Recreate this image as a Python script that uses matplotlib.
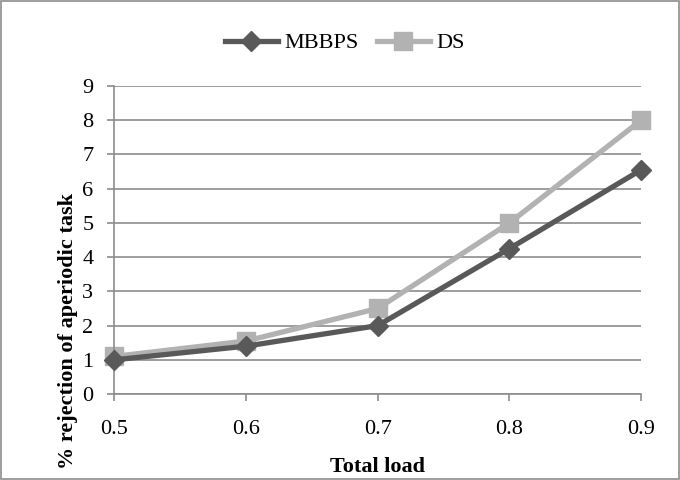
import matplotlib.pyplot as plt
from matplotlib.patches import Rectangle

plt.rcParams['font.family'] = ['Liberation Serif', 'DejaVu Serif']

# data
load = [0.5, 0.6, 0.7, 0.8, 0.9]
mbbps = [1.0, 1.4, 2.0, 4.25, 6.55]
ds = [1.1, 1.55, 2.5, 5.0, 8.0]

fig = plt.figure(figsize=(6.8, 4.8), dpi=100)
ax = fig.add_axes([0.168, 0.179, 0.775, 0.642])

ax.plot(load, mbbps, color='#595959', lw=3.8, marker='D', markersize=10, label='MBBPS', zorder=3)
ax.plot(load, ds, color='#b2b2b2', lw=3.8, marker='s', markersize=13, label='DS', zorder=2)

ax.set_xlim(0.5, 0.9)
ax.set_ylim(0, 9)
ax.set_xticks(load)
ax.set_xticklabels(['0.5', '0.6', '0.7', '0.8', '0.9'])
ax.set_yticks(range(10))
ax.yaxis.grid(True, color='#8c8c8c', lw=1.2)
ax.set_axisbelow(True)
for s in ['top', 'right']:
    ax.spines[s].set_visible(False)
for s in ['left', 'bottom']:
    ax.spines[s].set_color('#8c8c8c')
    ax.spines[s].set_linewidth(1.2)
ax.tick_params(axis='both', colors='#8c8c8c', labelcolor='black', labelsize=16, length=5, width=1.2)
ax.tick_params(axis='x', pad=14)
ax.tick_params(axis='y', pad=10)
for l in ax.get_lines():
    l.set_clip_on(False)

ax.set_xlabel('Total load', fontsize=16, fontweight='bold')
ax.xaxis.set_label_coords(0.5, -0.205)
ax.set_ylabel('% rejection of aperiodic task', fontsize=16, fontweight='bold')
ax.yaxis.set_label_coords(-0.068, 0.205)

fig.legend(loc='center', bbox_to_anchor=(0.507, 0.91), ncol=2, frameon=False,
           fontsize=16, handlelength=2.4, columnspacing=0.8, handletextpad=0.3)

fig.patches.append(Rectangle((0.002, 0.002), 0.996, 0.996, transform=fig.transFigure,
                             fill=False, edgecolor='#8c8c8c', lw=1.2))

fig.savefig('out.png', dpi=100)
